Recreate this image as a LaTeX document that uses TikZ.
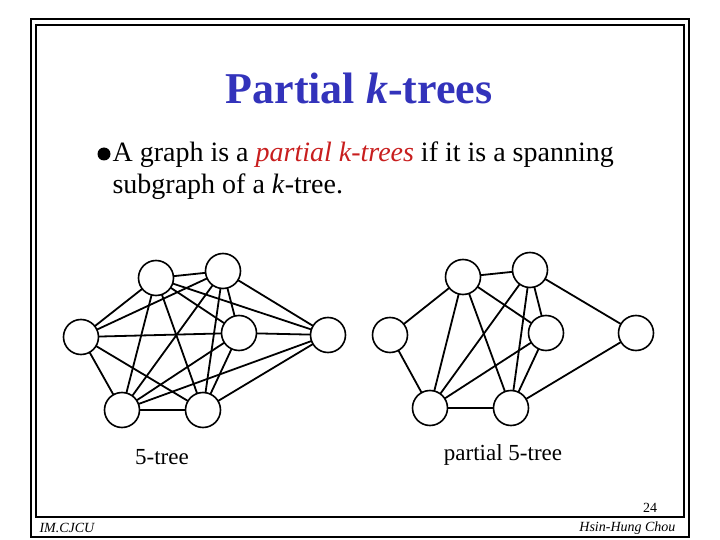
\documentclass[tikz,border=0pt]{standalone}
\usepackage{fontspec}
\setmainfont{Liberation Serif}
\definecolor{ttl}{RGB}{51,51,187}
\definecolor{emr}{RGB}{200,30,30}
\begin{document}
\begin{tikzpicture}[x=1pt,y=-1pt,
  v/.style={circle,draw,line width=1.6pt,fill=white,minimum size=35pt,inner sep=0pt},
  e/.style={line width=1.8pt},
  frame/.style={line width=2pt}]
\useasboundingbox (0,0) rectangle (720,540);
\draw[frame] (31,19) rectangle (689,537);
\draw[frame] (36,25) rectangle (684,517);
\node[text=ttl,font=\fontsize{44}{48}\selectfont\bfseries] (title) at (359,88) {Partial \textit{k}-trees};
\fill (104,154) circle (6.5);
\node[anchor=west,align=left,font=\fontsize{28}{32}\selectfont] (txt) at (109,171) {A graph is a \textcolor{emr}{\textit{partial k-trees}} if it is a spanning\\subgraph of a \textit{k}-tree.};
% left graph
\begin{scope}
\coordinate (A) at (81,337);\coordinate (B) at (156,278);\coordinate (C) at (223,271);
\coordinate (D) at (239,333);\coordinate (E) at (328,335);\coordinate (F) at (122,410);\coordinate (G) at (203,410);
\foreach \a/\b in {B/C,B/A,C/A,A/D,A/F,A/G,B/F,B/G,B/D,B/E,C/F,C/G,C/D,C/E,D/E,D/F,D/G,E/F,E/G,F/G}
  \draw[e] (\a) -- (\b);
\foreach \n in {A,B,C,D,E,F,G} \node[v] (n\n) at (\n) {};
\end{scope}
\begin{scope}
\coordinate (A2) at (390,335);\coordinate (B2) at (463,277);\coordinate (C2) at (530,270);
\coordinate (D2) at (546,333);\coordinate (E2) at (636,333);\coordinate (F2) at (430,408);\coordinate (G2) at (511,408);
\foreach \a/\b in {B2/C2,A2/B2,A2/F2,B2/F2,B2/G2,B2/D2,C2/F2,C2/G2,C2/D2,C2/E2,D2/F2,D2/G2,F2/G2,E2/G2}
  \draw[e] (\a) -- (\b);
\foreach \n in {A2,B2,C2,D2,E2,F2,G2} \node[v] (m\n) at (\n) {};
\end{scope}
\node[font=\fontsize{23}{26}\selectfont] (l1) at (162,457) {5-tree};
\node[font=\fontsize{23}{26}\selectfont] (l2) at (503,455) {partial 5-tree};
\node[font=\fontsize{14}{16}\selectfont] (pg) at (650,508) {24};
\node[font=\fontsize{14}{16}\selectfont\itshape,anchor=west] (im) at (36,528) {IM.CJCU};
\node[font=\fontsize{14}{16}\selectfont\itshape,anchor=east] (au) at (679,528) {Hsin-Hung Chou};
\end{tikzpicture}
\end{document}
